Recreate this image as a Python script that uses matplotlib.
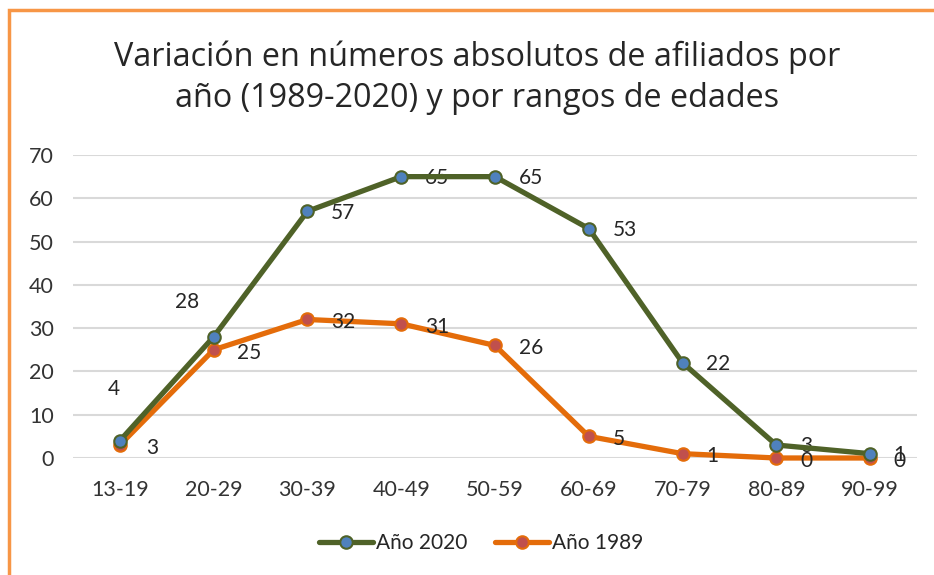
import matplotlib
matplotlib.use("Agg")
import matplotlib.pyplot as plt
from matplotlib.patches import Rectangle

categories = ["13-19", "20-29", "30-39", "40-49", "50-59", "60-69", "70-79", "80-89", "90-99"]
values_2020 = [4, 28, 57, 65, 65, 53, 22, 3, 1]
values_1989 = [3, 25, 32, 31, 26, 5, 1, 0, 0]
yticks = [0, 10, 20, 30, 40, 50, 60, 70]
title = "Variación en números absolutos de afiliados por\naño (1989-2020) y por rangos de edades"

plt.rcParams['font.family'] = ['Lato', 'DejaVu Sans']
W, H = 934, 575
fig = plt.figure(figsize=(W / 100, H / 100), dpi=100)
ax = fig.add_axes([73 / W, 1 - 458 / H, (917 - 73) / W, (458 - 155) / H])

x = list(range(len(categories)))
green, blue = "#4F6228", "#4F81BD"
orange, red = "#E46C0A", "#C0504D"
txt = "#262626"

ax.plot(x, values_2020, color=green, lw=3.8, marker='o', ms=9, mfc=blue, mec=green,
        mew=1.5, label="Año 2020", zorder=4, solid_capstyle='round')
ax.plot(x, values_1989, color=orange, lw=3.8, marker='o', ms=9, mfc=red, mec=orange,
        mew=1.5, label="Año 1989", zorder=3, solid_capstyle='round')

for i, v in enumerate(values_2020):
    if i == 0:
        ax.annotate(str(v), (i, v), xytext=(-4, 37), textcoords='offset points',
                    ha='center', va='center', fontsize=15, color=txt)
    elif i == 1:
        ax.annotate(str(v), (i, v), xytext=(-19, 25), textcoords='offset points',
                    ha='center', va='center', fontsize=15, color=txt)
    else:
        ax.annotate(str(v), (i, v), xytext=(17, -1), textcoords='offset points',
                    ha='left', va='center', fontsize=15, color=txt)
for i, v in enumerate(values_1989):
    ax.annotate(str(v), (i, v), xytext=(19 if i == 0 else 17, -2), textcoords='offset points',
                ha='left', va='center', fontsize=15, color=txt)

ax.set_xlim(-0.5, len(categories) - 0.5)
ax.set_ylim(0, 70)
ax.set_yticks(yticks)
ax.set_xticks(x)
ax.set_xticklabels(categories)
ax.tick_params(axis='both', length=0, labelsize=15.5, colors="#333333")
ax.tick_params(axis='y', pad=14)
ax.tick_params(axis='x', pad=16)
ax.grid(axis='y', color="#D9D9D9", lw=1.5)
ax.set_axisbelow(True)
for s in ax.spines.values():
    s.set_visible(False)
for art in ax.lines + ax.texts:
    art.set_clip_on(False)

fig.text(477 / W, 1 - 77.5 / H, title, ha='center', va='center', fontsize=23.3,
         family=['Open Sans', 'DejaVu Sans'], color=txt, linespacing=1.32)

leg = fig.legend(loc='center', bbox_to_anchor=(481 / W, 1 - 543 / H), ncol=2, frameon=False,
                 fontsize=15, handlelength=2.6, columnspacing=1.3, handletextpad=0.15)
for t in leg.get_texts():
    t.set_color(txt)

fig.patches.append(Rectangle((9 / W, -0.1), 1.1, 1 - 10 / H + 0.1, transform=fig.transFigure,
                             fill=False, edgecolor="#F79646", lw=2.5))

fig.savefig("out.png", dpi=100)
